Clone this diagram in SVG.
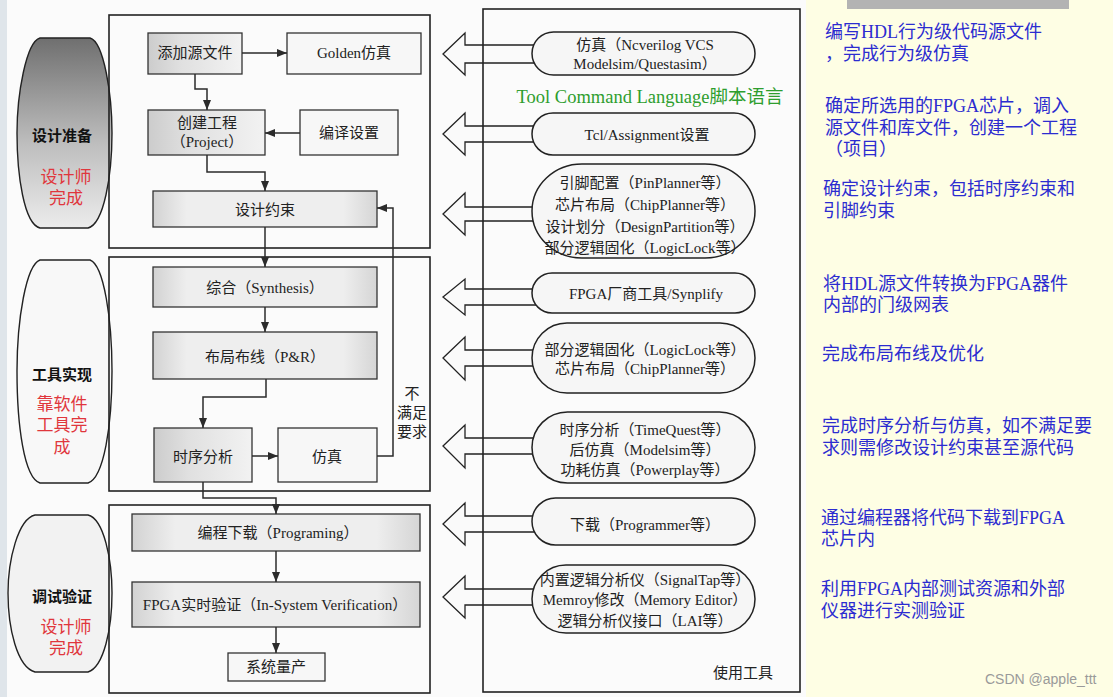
<svg xmlns="http://www.w3.org/2000/svg" width="1113" height="697" viewBox="0 0 1113 697">
<defs>
<linearGradient id="gNode" x1="0" y1="0" x2="1" y2="0">
<stop offset="0" stop-color="#cccccc"/><stop offset="0.35" stop-color="#e0e0e0"/><stop offset="1" stop-color="#f2f2f2"/>
</linearGradient>
<linearGradient id="gWide" x1="0" y1="0" x2="1" y2="0">
<stop offset="0" stop-color="#d2d2d2"/><stop offset="0.15" stop-color="#eeeeee"/><stop offset="0.85" stop-color="#eeeeee"/><stop offset="1" stop-color="#d5d5d5"/>
</linearGradient>
<linearGradient id="gBarrel" x1="0" y1="0" x2="0" y2="1">
<stop offset="0" stop-color="#6f6f6f"/><stop offset="0.55" stop-color="#bdbdbd"/><stop offset="1" stop-color="#ececec"/>
</linearGradient>
<marker id="ah" viewBox="0 0 10 8" refX="10" refY="4" markerWidth="10" markerHeight="8" markerUnits="userSpaceOnUse" orient="auto">
<path d="M0,0 L10,4 L0,8 Z" fill="#2b2b2b"/>
</marker>
<style>
.sec{fill:none;stroke:#222;stroke-width:1.6}
.node{stroke:#333;stroke-width:1.3}
.plain{fill:#f7f7f7}
.shade{fill:url(#gNode)}
.wide{fill:url(#gWide)}
.t{font-family:"Liberation Serif","Noto Sans CJK SC",serif;font-size:15px;fill:#222;text-anchor:middle}
.pt{font-family:"Liberation Serif","Noto Sans CJK SC",serif;font-size:15px;fill:#222;text-anchor:middle}
.lab{font-family:"Liberation Serif","Noto Sans CJK SC",serif;font-size:15px;font-weight:bold;fill:#111;text-anchor:middle}
.red{font-family:"Liberation Serif","Noto Sans CJK SC",serif;font-size:17px;fill:#e0363c;text-anchor:middle}
.blue{font-family:"Liberation Serif","Noto Sans CJK SC",serif;font-size:18px;fill:#2c2cd0}
.pill{fill:#f6f6f6;stroke:#222;stroke-width:1.5}
.barrow{fill:#fafafa;stroke:#222;stroke-width:1.3}
.conn{fill:none;stroke:#2b2b2b;stroke-width:1.5}
</style>
</defs>
<rect x="0" y="0" width="1113" height="697" fill="#fefee4"/>
<rect x="0" y="0" width="7" height="697" fill="#dfe5ea"/>
<rect x="7" y="0" width="799" height="697" fill="#fbfbfb"/>
<rect x="847" y="0" width="222" height="9" fill="#b3b3b3"/>

<g id="phase1">
<path d="M40,38 L90,38 C104,42 112,95 112,133 C112,175 104,224 88,228 L40,228 C24,224 17,175 17,133 C17,95 26,42 40,38 Z" fill="url(#gBarrel)" stroke="#222" stroke-width="1.4"/>
<text class="lab" x="62" y="141">设计准备</text>
<text class="red" x="66" y="183">设计师</text>
<text class="red" x="66" y="204">完成</text>
</g>
<g id="phase2">
<path d="M40,260 L90,260 C104,265 112,320 112,371 C112,425 104,478 88,483 L40,483 C24,478 17,425 17,371 C17,320 26,265 40,260 Z" fill="#f8f8f8" stroke="#222" stroke-width="1.4"/>
<text class="lab" x="62" y="380">工具实现</text>
<text class="red" x="62" y="410">靠软件</text>
<text class="red" x="62" y="431">工具完</text>
<text class="red" x="62" y="453">成</text>
</g>
<g id="phase3">
<path d="M35,515 L88,515 C104,519 112,560 112,593 C112,628 104,667 88,672 L35,672 C17,667 8,628 8,593 C8,560 18,519 35,515 Z" fill="#f2f2f2" stroke="#222" stroke-width="1.4"/>
<text class="lab" x="62" y="602">调试验证</text>
<text class="red" x="66" y="633">设计师</text>
<text class="red" x="66" y="654">完成</text>
</g>

<g id="sections">
<rect class="sec" x="109" y="15" width="321" height="233"/>
<rect class="sec" x="109" y="257" width="321" height="234"/>
<rect class="sec" x="109" y="505" width="321" height="188"/>
</g>

<g id="n-add"><rect class="node shade" x="148" y="33" width="94" height="41"/><text class="t" x="195" y="58">添加源文件</text></g>
<g id="n-golden"><rect class="node plain" x="287" y="33" width="134" height="41"/><text class="t" x="354" y="58">Golden仿真</text></g>
<g id="n-project"><rect class="node shade" x="148" y="110" width="117" height="45"/><text class="t" x="207" y="128">创建工程</text><text class="t" x="207" y="147">（Project）</text></g>
<g id="n-compile"><rect class="node plain" x="300" y="110" width="98" height="45"/><text class="t" x="349" y="138">编译设置</text></g>
<g id="n-constraint"><rect class="node wide" x="153" y="191" width="224" height="36"/><text class="t" x="265" y="215">设计约束</text></g>
<g id="n-synth"><rect class="node wide" x="153" y="267" width="224" height="40"/><text class="t" x="265" y="293">综合（Synthesis）</text></g>
<g id="n-pr"><rect class="node wide" x="153" y="332" width="224" height="47"/><text class="t" x="265" y="362">布局布线（P&amp;R）</text></g>
<g id="n-timing"><rect class="node shade" x="154" y="428" width="98" height="54"/><text class="t" x="203" y="462">时序分析</text></g>
<g id="n-sim"><rect class="node plain" x="278" y="428" width="99" height="54"/><text class="t" x="327" y="462">仿真</text></g>
<g id="n-prog"><rect class="node wide" x="132" y="514" width="288" height="37"/><text class="t" x="278" y="538">编程下载（Programing）</text></g>
<g id="n-verify"><rect class="node wide" x="132" y="582" width="288" height="45"/><text class="t" x="275" y="610">FPGA实时验证（In-System Verification）</text></g>
<g id="n-mass"><rect class="node plain" x="228" y="653" width="97" height="28"/><text class="t" x="276" y="672">系统量产</text></g>

<g id="connectors">
<path class="conn" d="M242,53 H287" marker-end="url(#ah)"/>
<path class="conn" d="M195,74 V89 H207 V110" marker-end="url(#ah)"/>
<path class="conn" d="M300,133 H265" marker-end="url(#ah)"/>
<path class="conn" d="M207,155 V172 H265 V191" marker-end="url(#ah)"/>
<path class="conn" d="M265,227 V267" marker-end="url(#ah)"/>
<path class="conn" d="M265,307 V332" marker-end="url(#ah)"/>
<path class="conn" d="M266,379 V397 H203 V428" marker-end="url(#ah)"/>
<path class="conn" d="M252,456 H278" marker-end="url(#ah)"/>
<path class="conn" d="M377,456 H393 V208 H377" marker-end="url(#ah)"/>
<path class="conn" d="M203,482 V498 H276 V514" marker-end="url(#ah)"/>
<path class="conn" d="M276,551 V582" marker-end="url(#ah)"/>
<path class="conn" d="M276,627 V653" marker-end="url(#ah)"/>
</g>
<g id="feedback-label">
<text class="t" x="412" y="399">不</text>
<text class="t" x="412" y="418">满足</text>
<text class="t" x="412" y="437">要求</text>
</g>

<g id="tool-arrows">
<polygon class="barrow" points="443,54 465,33 465,45 545,45 545,63 465,63 465,75"/>
<polygon class="barrow" points="443,134 465,113 465,126 545,126 545,142 465,142 465,155"/>
<polygon class="barrow" points="443,214 465,193 465,207 545,207 545,221 465,221 465,235"/>
<polygon class="barrow" points="443,297 465,279 465,289 545,289 545,305 465,305 465,315"/>
<polygon class="barrow" points="443,358 465,337 465,350 545,350 545,366 465,366 465,380"/>
<polygon class="barrow" points="443,446 465,425 465,438 545,438 545,454 465,454 465,468"/>
<polygon class="barrow" points="443,524 465,503 465,516 545,516 545,532 465,532 465,545"/>
<polygon class="barrow" points="443,597 465,576 465,589 545,589 545,605 465,605 465,618"/>
</g>
<g id="tools-box"><rect class="sec" x="483" y="9" width="317" height="683"/><text class="t" x="743" y="678">使用工具</text></g>

<g id="t-sim"><rect class="pill" x="532" y="32" width="223" height="43" rx="21.5"/><text class="pt" x="645" y="50">仿真（Ncverilog VCS</text><text class="pt" x="645" y="69">Modelsim/Questasim）</text></g>
<text x="650" y="103" font-family="Liberation Serif, Noto Sans CJK SC, serif" font-size="18.5" fill="#2e9e2e" text-anchor="middle">Tool Command Language脚本语言</text>
<g id="t-tcl"><rect class="pill" x="532" y="113" width="223" height="42" rx="21"/><text class="pt" x="647" y="140">Tcl/Assignment设置</text></g>
<g id="t-pin"><rect class="pill" x="532" y="164" width="223" height="94" rx="50" ry="47"/><text class="pt" x="645" y="188">引脚配置（PinPlanner等）</text><text class="pt" x="645" y="210">芯片布局（ChipPlanner等）</text><text class="pt" x="645" y="232">设计划分（DesignPartition等）</text><text class="pt" x="645" y="253">部分逻辑固化（LogicLock等）</text></g>
<g id="t-synth"><rect class="pill" x="532" y="273" width="223" height="40" rx="20"/><text class="pt" x="646" y="299">FPGA厂商工具/Synplify</text></g>
<g id="t-lock"><rect class="pill" x="532" y="323" width="223" height="70" rx="35"/><text class="pt" x="645" y="355">部分逻辑固化（LogicLock等）</text><text class="pt" x="645" y="374">芯片布局（ChipPlanner等）</text></g>
<g id="t-timing"><rect class="pill" x="532" y="412" width="223" height="71" rx="35.5"/><text class="pt" x="645" y="435">时序分析（TimeQuest等）</text><text class="pt" x="645" y="455">后仿真（Modelsim等）</text><text class="pt" x="645" y="475">功耗仿真（Powerplay等）</text></g>
<g id="t-prog"><rect class="pill" x="532" y="498" width="223" height="47" rx="23.5"/><text class="pt" x="645" y="530">下载（Programmer等）</text></g>
<g id="t-debug"><rect class="pill" x="532" y="565" width="223" height="68" rx="34"/><text class="pt" x="645" y="585">内置逻辑分析仪（SignalTap等）</text><text class="pt" x="645" y="605">Memroy修改（Memory Editor）</text><text class="pt" x="645" y="626">逻辑分析仪接口（LAI等）</text></g>

<g id="notes">
<text class="blue" x="825" y="38">编写HDL行为级代码源文件</text>
<text class="blue" x="825" y="60">，完成行为级仿真</text>
<text class="blue" x="825" y="112">确定所选用的FPGA芯片，调入</text>
<text class="blue" x="825" y="134">源文件和库文件，创建一个工程</text>
<text class="blue" x="825" y="155">（项目）</text>
<text class="blue" x="823" y="195">确定设计约束，包括时序约束和</text>
<text class="blue" x="823" y="217">引脚约束</text>
<text class="blue" x="823" y="290">将HDL源文件转换为FPGA器件</text>
<text class="blue" x="823" y="311">内部的门级网表</text>
<text class="blue" x="822" y="360">完成布局布线及优化</text>
<text class="blue" x="822" y="432">完成时序分析与仿真，如不满足要</text>
<text class="blue" x="822" y="454">求则需修改设计约束甚至源代码</text>
<text class="blue" x="821" y="524">通过编程器将代码下载到FPGA</text>
<text class="blue" x="821" y="545">芯片内</text>
<text class="blue" x="821" y="595">利用FPGA内部测试资源和外部</text>
<text class="blue" x="821" y="617">仪器进行实测验证</text>
<text x="985" y="684" font-family="Liberation Sans, Arial, sans-serif" font-size="14" fill="#9a9a9a">CSDN @apple_ttt</text>
</g>
</svg>
